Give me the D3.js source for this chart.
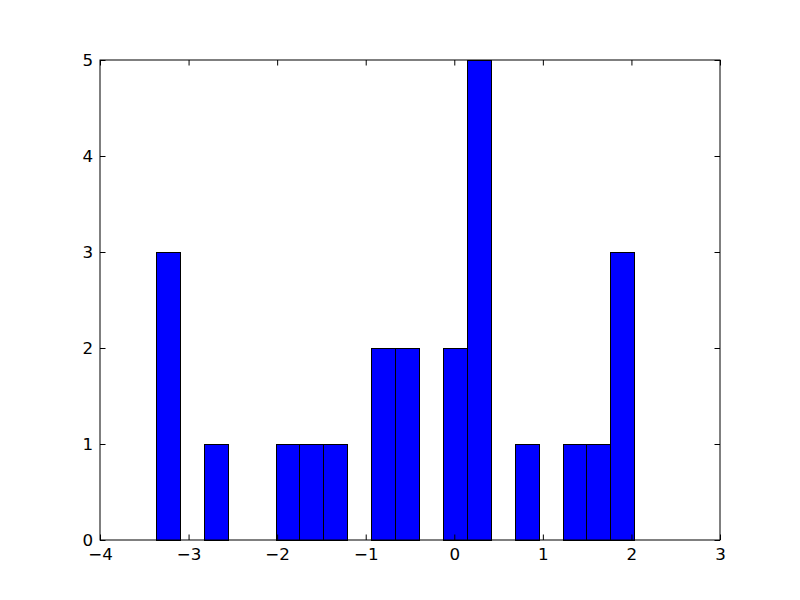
<!DOCTYPE html>
<html><head><meta charset="utf-8">
<script src="https://cdn.jsdelivr.net/npm/d3@7"></script>
<style>body{margin:0;background:#fff}svg{display:block}text{font-family:"DejaVu Sans",sans-serif}</style>
</head><body>
<script>
const binStart = -3.368;
const binEnd = 2.0326;
const counts = [3,0,1,0,0,1,1,1,0,2,2,0,2,5,0,1,0,1,1,3];
const xTicks = [-4,-3,-2,-1,0,1,2,3];
const yTicks = [0,1,2,3,4,5];

const W=800,H=600,m={l:100,r:80,t:60,b:60};
const svg=d3.select("body").append("svg").attr("width",W).attr("height",H);
const x=d3.scaleLinear().domain([-4,3]).range([m.l,W-m.r]);
const y=d3.scaleLinear().domain([0,5]).range([H-m.b,m.t]);
const bw=(binEnd-binStart)/counts.length;
const bins=counts.map((c,i)=>({x0:binStart+i*bw,x1:binStart+(i+1)*bw,c}));
const px=v=>Math.round(v)+0.5;

svg.append("g").selectAll("rect").data(bins.filter(d=>d.c>0)).join("rect")
 .attr("x",d=>px(x(d.x0))).attr("width",d=>px(x(d.x1))-px(x(d.x0)))
 .attr("y",d=>px(y(d.c))).attr("height",d=>px(y(0))-px(y(d.c)))
 .attr("fill","#0000ff").attr("stroke","#000").attr("stroke-width",1);

const fmt=d=>d<0?"\u2212"+Math.abs(d):String(d);
const ts=5.5;
const gx=svg.append("g").attr("transform",`translate(0,${H-m.b})`)
 .call(d3.axisBottom(x).tickValues(xTicks).tickFormat(fmt).tickSizeInner(-ts).tickSizeOuter(0).tickPadding(8));
const gxt=svg.append("g").attr("transform",`translate(0,${m.t})`)
 .call(d3.axisTop(x).tickValues(xTicks).tickFormat("").tickSizeInner(-ts).tickSizeOuter(0));
const gy=svg.append("g").attr("transform",`translate(${m.l},0)`)
 .call(d3.axisLeft(y).tickValues(yTicks).tickFormat(fmt).tickSizeInner(-ts).tickSizeOuter(0).tickPadding(7));
const gyr=svg.append("g").attr("transform",`translate(${W-m.r},0)`)
 .call(d3.axisRight(y).tickValues(yTicks).tickFormat("").tickSizeInner(-ts).tickSizeOuter(0));
[gx,gxt,gy,gyr].forEach(g=>{g.select(".domain").remove();g.selectAll("line").attr("stroke","#000");
 g.selectAll("text").attr("fill","#000").style("font-size","16.7px").style("font-family","DejaVu Sans");});
svg.append("rect").attr("x",m.l).attr("y",m.t).attr("width",W-m.l-m.r).attr("height",H-m.t-m.b)
 .attr("fill","none").attr("stroke","#000").attr("stroke-width",1);
</script>
</body></html>
